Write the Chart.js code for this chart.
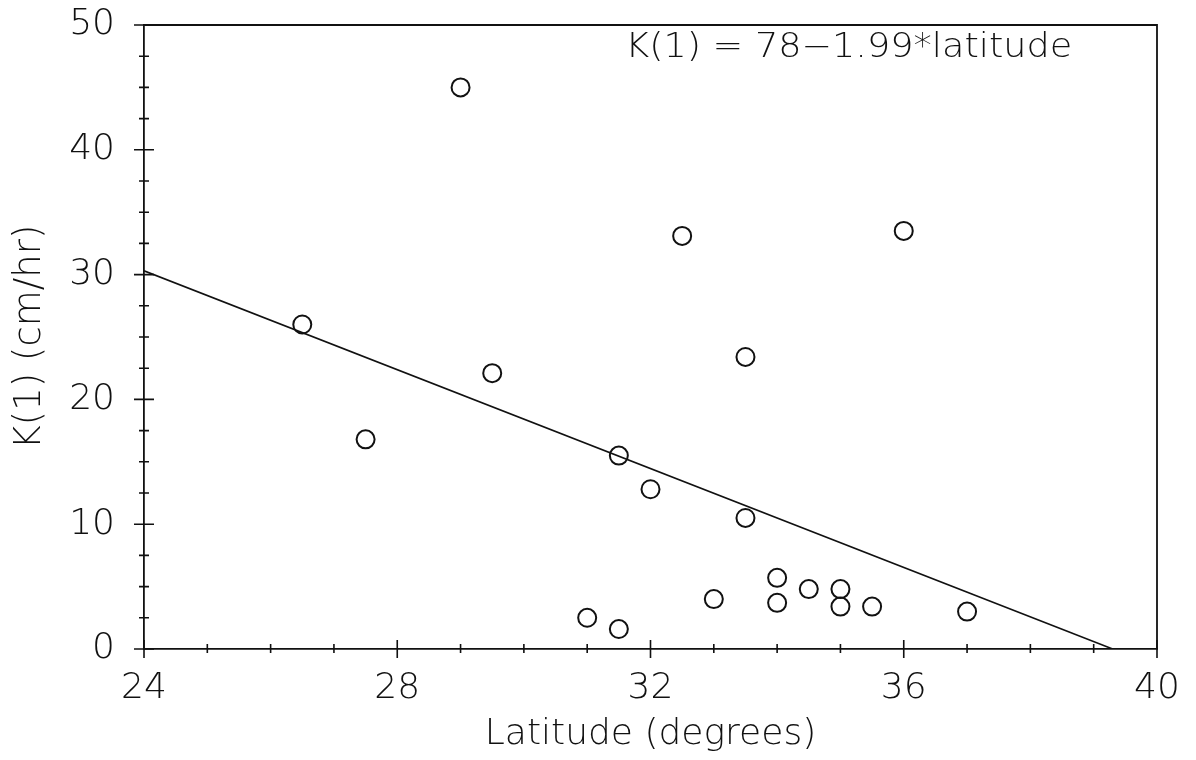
<!DOCTYPE html>
<html lang="en">
<head>
    <meta charset="UTF-8">
    <title>K(1) vs Latitude</title>
    <script src="https://cdn.jsdelivr.net/npm/chart.js"></script>
    <style>
        body {
            margin: 0;
            background-color: #ffffff;
        }
        #chart-container {
            width: 1196px;
            height: 760px;
        }
    </style>
</head>
<body>
    <div id="chart-container">
        <canvas id="chart"></canvas>
    </div>

    <script>
        // observed points
        var latitude = [26.5, 27.5, 29, 29.5, 31, 31.5, 31.5, 32, 32.5, 33, 33.5, 33.5, 34, 34, 34.5, 35, 35, 35.5, 36, 37];
        var kOne = [26.0, 16.8, 45.0, 22.1, 2.5, 1.6, 15.5, 12.8, 33.1, 4.0, 23.4, 10.5, 5.7, 3.7, 4.8, 4.8, 3.4, 3.4, 33.5, 3.0];

        // fitted line K(1) = 78 - 1.99*latitude, ends as drawn
        var fitLatitude = [24, 39.3];
        var fitK = [30.3, 0];

        var xTicks = [24, 28, 32, 36, 40];
        var yTicks = [0, 10, 20, 30, 40, 50];
        var fitLabel = 'K(1) = 78\u22121.99*latitude';

        var fontFamily = '"DejaVu Sans", sans-serif';
        var ink = '#111';

        // ticks that cross the axis lines, plus the equation text
        var crossTicks = {
            id: 'crossTicks',
            afterDraw: function(chart) {
                var ctx = chart.ctx;
                var xs = chart.scales.x;
                var ys = chart.scales.y;
                var area = chart.chartArea;
                ctx.save();
                ctx.strokeStyle = ink;
                ctx.lineWidth = 1.6;
                ctx.beginPath();
                for (var v = xs.min; v <= xs.max; v += 1) {
                    var px = xs.getPixelForValue(v);
                    var major = xTicks.indexOf(v) >= 0;
                    ctx.moveTo(px, area.bottom - (major ? 9 : 5));
                    ctx.lineTo(px, area.bottom + (major ? 9 : 4));
                }
                for (var w = ys.min; w <= ys.max; w += 2.5) {
                    var py = ys.getPixelForValue(w);
                    var big = yTicks.indexOf(w) >= 0;
                    ctx.moveTo(area.left - (big ? 10 : 5), py);
                    ctx.lineTo(area.left + (big ? 10 : 5), py);
                }
                ctx.stroke();

                // top and right frame
                ctx.lineWidth = 1.8;
                ctx.beginPath();
                ctx.moveTo(area.left, area.top);
                ctx.lineTo(area.right, area.top);
                ctx.lineTo(area.right, area.bottom);
                ctx.stroke();

                ctx.fillStyle = ink;
                ctx.font = '200 33px ' + fontFamily;
                ctx.textAlign = 'left';
                ctx.textBaseline = 'middle';
                var tx = xs.getPixelForValue(31.6);
                var ty = ys.getPixelForValue(48.1);
                var natural = ctx.measureText(fitLabel).width;
                ctx.translate(tx, ty);
                ctx.scale(447 / natural, 1);
                ctx.fillText(fitLabel, 0, 0);
                ctx.restore();
            }
        };

        var chart = new Chart(document.getElementById('chart'), {
            type: 'scatter',
            data: {
                datasets: [
                    {
                        label: 'observed',
                        data: latitude.map(function(lat, i) { return { x: lat, y: kOne[i] }; }),
                        pointStyle: 'circle',
                        pointRadius: 9,
                        pointBorderWidth: 2,
                        pointBorderColor: ink,
                        pointBackgroundColor: 'rgba(255,255,255,0)',
                        showLine: false
                    },
                    {
                        label: 'fit',
                        data: fitLatitude.map(function(lat, i) { return { x: lat, y: fitK[i] }; }),
                        showLine: true,
                        borderColor: ink,
                        borderWidth: 1.6,
                        pointRadius: 0
                    }
                ]
            },
            options: {
                responsive: true,
                maintainAspectRatio: false,
                animation: false,
                layout: {
                    padding: { top: 25, right: 39, left: 0, bottom: 0 }
                },
                plugins: {
                    legend: { display: false },
                    tooltip: { enabled: false }
                },
                scales: {
                    x: {
                        type: 'linear',
                        min: 24,
                        max: 40,
                        afterFit: function(scale) {
                            scale.height = 111;
                            scale.paddingLeft = 0;
                            scale.paddingRight = 0;
                        },
                        afterBuildTicks: function(scale) {
                            scale.ticks = xTicks.map(function(v) { return { value: v }; });
                        },
                        grid: { display: false },
                        border: { display: true, color: ink, width: 1.8 },
                        ticks: {
                            color: ink,
                            padding: 10,
                            maxRotation: 0,
                            font: { family: fontFamily, size: 36, weight: 200 }
                        },
                        title: {
                            display: true,
                            text: 'Latitude (degrees)',
                            color: ink,
                            padding: { top: 0, bottom: 4 },
                            font: { family: fontFamily, size: 36, weight: 200 }
                        }
                    },
                    y: {
                        type: 'linear',
                        min: 0,
                        max: 50,
                        afterFit: function(scale) {
                            scale.width = 144;
                            scale.paddingTop = 0;
                            scale.paddingBottom = 0;
                        },
                        afterBuildTicks: function(scale) {
                            scale.ticks = yTicks.map(function(v) { return { value: v }; });
                        },
                        grid: { display: false },
                        border: { display: true, color: ink, width: 1.8 },
                        ticks: {
                            color: ink,
                            padding: 21,
                            font: { family: fontFamily, size: 36, weight: 200 }
                        },
                        title: {
                            display: true,
                            text: 'K(1) (cm/hr)',
                            color: ink,
                            padding: { top: 8, bottom: 0 },
                            font: { family: fontFamily, size: 37, weight: 200 }
                        }
                    }
                }
            },
            plugins: [crossTicks]
        });
    </script>
</body>
</html>
